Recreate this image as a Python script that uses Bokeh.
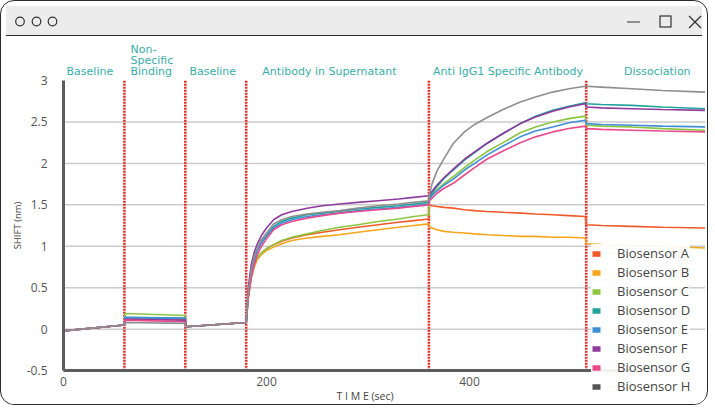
from bokeh.plotting import figure
from bokeh.models import (Range1d, FixedTicker, CustomJSTickFormatter, Legend,
                          LegendItem, Div, ColumnDataSource)
from bokeh.layouts import column
from bokeh.core.properties import value
from bokeh.embed import file_html
from bokeh.resources import INLINE

# ---------------- data ----------------
TIME = [0, 60, 60.5, 120, 120.5, 180,
        182, 185, 188, 191, 195, 200, 207, 215, 225, 240, 255, 272, 290, 310, 330, 345, 360,
        360.5, 363, 368, 375, 384, 395, 405, 417, 433, 450, 465, 482, 498, 514,
        515, 530, 560, 590, 632]

SERIES = ["Biosensor A", "Biosensor B", "Biosensor C", "Biosensor D",
          "Biosensor E", "Biosensor F", "Biosensor G", "Biosensor H"]

A = [-0.02, 0.05, 0.13, 0.12, 0.03, 0.08,
     0.38, 0.64, 0.77, 0.86, 0.92, 0.97, 1.02, 1.06, 1.10, 1.14, 1.17, 1.20, 1.23, 1.26, 1.29, 1.31, 1.33,
     1.50, 1.49, 1.48, 1.47, 1.46, 1.44, 1.43, 1.42, 1.41, 1.40, 1.39, 1.38, 1.37, 1.36,
     1.26, 1.25, 1.24, 1.23, 1.22]
B = [-0.02, 0.05, 0.13, 0.115, 0.03, 0.08,
     0.37, 0.62, 0.75, 0.84, 0.90, 0.95, 0.99, 1.03, 1.07, 1.10, 1.12, 1.14, 1.17, 1.20, 1.23, 1.25, 1.27,
     1.24, 1.22, 1.20, 1.18, 1.17, 1.16, 1.15, 1.14, 1.13, 1.12, 1.12, 1.11, 1.11, 1.10,
     1.03, 1.02, 1.01, 1.00, 0.98]
C = [-0.02, 0.05, 0.19, 0.165, 0.03, 0.08,
     0.39, 0.64, 0.78, 0.86, 0.92, 0.97, 1.02, 1.07, 1.11, 1.15, 1.19, 1.23, 1.26, 1.30, 1.33, 1.36, 1.38,
     1.58, 1.62, 1.68, 1.76, 1.84, 1.95, 2.04, 2.14, 2.25, 2.37, 2.44, 2.50, 2.54, 2.57,
     2.46, 2.45, 2.44, 2.42, 2.40]
D = [-0.02, 0.05, 0.145, 0.135, 0.03, 0.08,
     0.40, 0.66, 0.83, 0.95, 1.05, 1.13, 1.24, 1.30, 1.34, 1.38, 1.40, 1.42, 1.45, 1.47, 1.49, 1.51, 1.53,
     1.60, 1.64, 1.72, 1.82, 1.92, 2.04, 2.13, 2.24, 2.36, 2.48, 2.57, 2.64, 2.69, 2.73,
     2.72, 2.71, 2.70, 2.68, 2.66]
E = [-0.02, 0.05, 0.14, 0.13, 0.03, 0.08,
     0.42, 0.68, 0.84, 0.95, 1.04, 1.12, 1.22, 1.28, 1.32, 1.36, 1.38, 1.40, 1.43, 1.45, 1.47, 1.49, 1.51,
     1.57, 1.61, 1.67, 1.74, 1.81, 1.92, 2.00, 2.10, 2.21, 2.32, 2.39, 2.44, 2.49, 2.52,
     2.48, 2.47, 2.46, 2.45, 2.44]
F = [-0.02, 0.05, 0.12, 0.11, 0.03, 0.08,
     0.50, 0.78, 0.93, 1.03, 1.13, 1.22, 1.32, 1.38, 1.42, 1.46, 1.49, 1.51, 1.53, 1.55, 1.57, 1.59, 1.61,
     1.62, 1.66, 1.74, 1.83, 1.93, 2.05, 2.14, 2.24, 2.36, 2.48, 2.56, 2.63, 2.68, 2.72,
     2.68, 2.67, 2.66, 2.65, 2.64]
G = [-0.02, 0.05, 0.11, 0.09, 0.03, 0.08,
     0.38, 0.62, 0.78, 0.90, 1.00, 1.09, 1.20, 1.26, 1.30, 1.34, 1.37, 1.40, 1.42, 1.44, 1.46, 1.48, 1.50,
     1.55, 1.58, 1.64, 1.70, 1.76, 1.86, 1.95, 2.05, 2.15, 2.25, 2.32, 2.38, 2.42, 2.45,
     2.42, 2.41, 2.40, 2.39, 2.38]
H = [-0.02, 0.05, 0.08, 0.07, 0.03, 0.08,
     0.45, 0.72, 0.88, 0.98, 1.08, 1.16, 1.27, 1.32, 1.36, 1.39, 1.41, 1.43, 1.46, 1.49, 1.51, 1.53, 1.55,
     1.62, 1.75, 1.91, 2.06, 2.24, 2.38, 2.47, 2.55, 2.65, 2.74, 2.80, 2.86, 2.90, 2.93,
     2.93, 2.92, 2.90, 2.88, 2.86]
VALUES = [A, B, C, D, E, F, G, H]

PHASE_STARTS = [60, 120, 180, 360, 515]
PHASE_LABELS = ["Baseline", "Non-\nSpecific\nBinding", "Baseline",
                "Antibody in Supernatant", "Anti IgG1 Specific Antibody", "Dissociation"]
PHASE_LABEL_X = [26, 66, 147, 262, 438, 585]
PHASE_LABEL_ALIGN = ["center", "left", "center", "center", "center", "center"]

Y_TICKS = [-0.5, 0, 0.5, 1, 1.5, 2, 2.5, 3]
GRID_VALUES = [0, 0.5, 1, 1.5, 2, 2.5]
X_TICKS = [0, 200, 400]

LINE_COLORS = ["#f05a28", "#f9a51b", "#8cc63f", "#1fa39c", "#3f8fd8",
               "#8e3a9f", "#ea4a8c", "#8f8f8f"]
LEGEND_COLORS = ["#f05a28", "#f9a51b", "#8cc63f", "#1fa39c", "#3f8fd8",
                 "#8e3a9f", "#ea4a8c", "#555555"]

# ---------------- geometry ----------------
PX_PER_S = 1.015
PX_PER_UNIT = 82.9
W, HGT = 696, 363
SHIFT = 8                # figure pushed right inside the window
LEFT_PX = 62.0 - SHIFT   # px between frame left edge and time 0
TOP_PX = 39.0            # px between figure top and value 3
x_start = -LEFT_PX / PX_PER_S
x_end = x_start + W / PX_PER_S
y_end = 3 + TOP_PX / PX_PER_UNIT
y_start = y_end - HGT / PX_PER_UNIT

p = figure(width=W, height=HGT, output_backend="svg", toolbar_location=None,
           x_range=Range1d(x_start, x_end), y_range=Range1d(y_start, y_end),
           min_border=0, styles={"margin-left": f"{SHIFT}px"})
p.outline_line_color = None
p.background_fill_color = "white"
p.border_fill_color = "white"

FONT = "Open Sans"
p.xaxis.fixed_location = -0.5
p.yaxis.fixed_location = 0
p.xaxis.ticker = FixedTicker(ticks=X_TICKS)
p.yaxis.ticker = FixedTicker(ticks=Y_TICKS)
p.yaxis.bounds = (-0.5, 3)
p.xaxis.bounds = (0, 597)
p.yaxis.formatter = CustomJSTickFormatter(code="return tick.toString()")
p.xaxis.formatter = CustomJSTickFormatter(code="return tick.toString()")
for ax in (p.xaxis, p.yaxis):
    ax.axis_line_color = "#5c5c5c"
    ax.axis_line_width = 3
    ax.major_tick_line_color = None
    ax.minor_tick_line_color = None
    ax.major_label_text_font = FONT
    ax.major_label_text_font_size = "12px"
    ax.major_label_text_color = "#555555"
    ax.axis_label_text_font = FONT
    ax.axis_label_text_font_style = "normal"
    ax.axis_label_text_color = "#444444"
p.yaxis.major_label_standoff = 10
p.xaxis.major_label_standoff = 0
p.yaxis.axis_label = "SHIFT (nm)"
p.yaxis.axis_label_text_font_size = "9.5px"
p.yaxis.axis_label_standoff = 0
p.xaxis.axis_label = "T I M E  (sec)"
p.xaxis.axis_label_text_font_size = "10.5px"
p.xaxis.axis_label_standoff = 0

p.xgrid.grid_line_color = None
p.ygrid.grid_line_color = None
# horizontal grid lines, starting at the y axis
p.segment(x0=[0] * len(GRID_VALUES), x1=[x_end] * len(GRID_VALUES),
          y0=GRID_VALUES, y1=GRID_VALUES, line_color="#cbcbcb", line_width=1.5,
          level="underlay")

# phase separators
p.segment(x0=PHASE_STARTS, x1=PHASE_STARTS, y0=[-0.5] * len(PHASE_STARTS),
          y1=[3] * len(PHASE_STARTS), line_color="#e0302e", line_width=2.6,
          line_dash="2 1")

# series
for vals, col in zip(VALUES, LINE_COLORS):
    p.line(TIME, vals, line_color=col, line_width=1.6)

# phase labels
lab_src = ColumnDataSource(dict(x=PHASE_LABEL_X, y=[3.03] * len(PHASE_LABEL_X),
                                text=PHASE_LABELS, align=PHASE_LABEL_ALIGN))
p.text(x="x", y="y", text="text", source=lab_src, text_align="align",
       text_baseline="bottom", text_font=value("DejaVu Sans"),
       text_font_size="11px", text_color="#3aaea9", text_line_height=0.85)

# legend with square swatches (swatch-only renderers hold no drawable point)
nan = float("nan")
items = []
for name, col in zip(SERIES, LEGEND_COLORS):
    r = p.quad(left=[nan], right=[nan], top=[nan], bottom=[nan],
               fill_color=col, line_color=None)
    items.append(LegendItem(label=name, renderers=[r]))
legend = Legend(items=items, location=(590 - SHIFT, 9), orientation="vertical",
                label_text_font=FONT, label_text_font_size="13px",
                label_text_color="#444444", glyph_width=10, glyph_height=7,
                label_standoff=16, label_height=16, spacing=1, padding=4,
                margin=0, border_line_color=None, background_fill_color="white",
                background_fill_alpha=0.92)
p.add_layout(legend, "center")

# window chrome
svg = (
    '<svg width="696" height="30" xmlns="http://www.w3.org/2000/svg">'
    '<g fill="none" stroke="#333" stroke-width="1.2">'
    '<circle cx="14" cy="15.5" r="4.3"/>'
    '<circle cx="30.5" cy="15.5" r="4.3"/>'
    '<circle cx="46.5" cy="15.5" r="4.3"/>'
    '<line x1="621" y1="16" x2="634" y2="16"/>'
    '<rect x="654" y="10" width="11" height="11"/>'
    '<line x1="683" y1="10" x2="695" y2="22"/>'
    '<line x1="695" y1="10" x2="683" y2="22"/>'
    '</g></svg>'
)
bar = Div(text=svg, width=W, height=30,
          styles={"background-color": "#ececec", "border-bottom": "1.5px solid #2b2b2b",
                  "display": "block", "line-height": "0"})

layout = column(bar, p, spacing=0,
                styles={"border": "1.5px solid #2b2b2b", "border-radius": "14px",
                        "overflow": "hidden", "background-color": "white"})

open("out.html", "w").write(file_html(layout, INLINE))
